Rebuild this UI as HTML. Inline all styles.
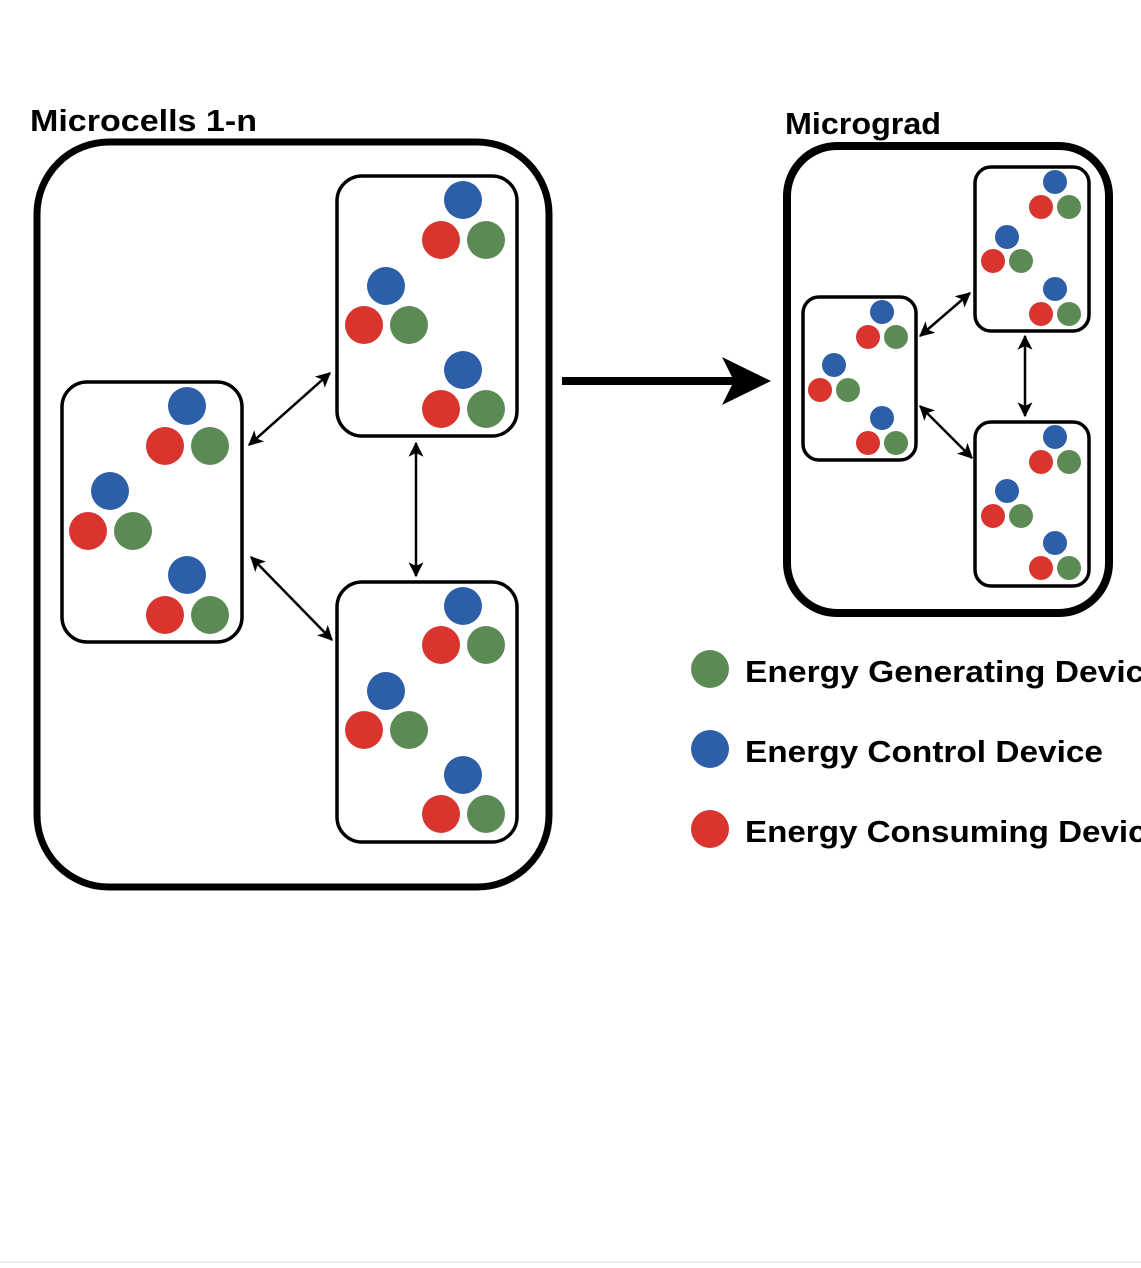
<!DOCTYPE html>
<html><head><meta charset="utf-8"><style>
html,body{margin:0;padding:0;background:#fff;}
svg{display:block;}
</style></head><body>
<svg width="1141" height="1268" viewBox="0 0 1141 1268" xmlns="http://www.w3.org/2000/svg">
<defs>
<marker id="ah" viewBox="0 0 12 12" refX="11" refY="6" markerWidth="15" markerHeight="15" markerUnits="userSpaceOnUse" orient="auto-start-reverse">
<path d="M0,0 L12,6 L0,12 L3,6 z" fill="#000"/>
</marker>
</defs>
<rect width="1141" height="1268" fill="#fff"/>
<rect x="0" y="1261" width="1141" height="2" fill="#eee"/>

<g font-family="Liberation Sans, sans-serif" font-weight="bold" fill="#000">
<text x="30" y="131" font-size="31" textLength="227" lengthAdjust="spacingAndGlyphs">Microcells 1-n</text>
<text x="785" y="134" font-size="31" textLength="156" lengthAdjust="spacingAndGlyphs">Micrograd</text>
<text x="745" y="682" font-size="31" textLength="418" lengthAdjust="spacingAndGlyphs">Energy Generating Device</text>
<text x="745" y="762" font-size="31" textLength="358" lengthAdjust="spacingAndGlyphs">Energy Control Device</text>
<text x="745" y="842" font-size="31" textLength="420" lengthAdjust="spacingAndGlyphs">Energy Consuming Device</text>
</g>

<rect x="37" y="142" width="512" height="745" rx="72" fill="none" stroke="#000" stroke-width="7"/>
<rect x="787" y="146" width="322" height="467" rx="50" fill="none" stroke="#000" stroke-width="8"/>

<g fill="none" stroke="#000" stroke-width="3.5">
<rect x="62" y="382" width="180" height="260" rx="25"/>
<rect x="337" y="176" width="180" height="260" rx="25"/>
<rect x="337" y="582" width="180" height="260" rx="25"/>
<rect x="803" y="297" width="113" height="163" rx="16"/>
<rect x="975" y="167" width="114" height="164" rx="16"/>
<rect x="975" y="422" width="114" height="164" rx="16"/>
</g>

<g stroke="#000" stroke-width="2.5" marker-start="url(#ah)" marker-end="url(#ah)">
<line x1="249" y1="445" x2="330" y2="373"/>
<line x1="251" y1="557" x2="332" y2="640"/>
<line x1="416" y1="443" x2="416" y2="576"/>
<line x1="920" y1="336" x2="970" y2="293"/>
<line x1="1025" y1="336" x2="1025" y2="416"/>
<line x1="920" y1="406" x2="972" y2="458"/>
</g>

<line x1="562" y1="381" x2="735" y2="381" stroke="#000" stroke-width="8"/>
<path d="M771,381 L722,357 L734,381 L722,405 z" fill="#000"/>

<g>
<circle cx="187" cy="406" r="19" fill="#2d5ea8"/><circle cx="165" cy="446" r="19" fill="#d9352e"/><circle cx="210" cy="446" r="19" fill="#5c8a55"/>
<circle cx="110" cy="491" r="19" fill="#2d5ea8"/><circle cx="88" cy="531" r="19" fill="#d9352e"/><circle cx="133" cy="531" r="19" fill="#5c8a55"/>
<circle cx="187" cy="575" r="19" fill="#2d5ea8"/><circle cx="165" cy="615" r="19" fill="#d9352e"/><circle cx="210" cy="615" r="19" fill="#5c8a55"/>

<circle cx="463" cy="200" r="19" fill="#2d5ea8"/><circle cx="441" cy="240" r="19" fill="#d9352e"/><circle cx="486" cy="240" r="19" fill="#5c8a55"/>
<circle cx="386" cy="286" r="19" fill="#2d5ea8"/><circle cx="364" cy="325" r="19" fill="#d9352e"/><circle cx="409" cy="325" r="19" fill="#5c8a55"/>
<circle cx="463" cy="370" r="19" fill="#2d5ea8"/><circle cx="441" cy="409" r="19" fill="#d9352e"/><circle cx="486" cy="409" r="19" fill="#5c8a55"/>

<circle cx="463" cy="606" r="19" fill="#2d5ea8"/><circle cx="441" cy="645" r="19" fill="#d9352e"/><circle cx="486" cy="645" r="19" fill="#5c8a55"/>
<circle cx="386" cy="691" r="19" fill="#2d5ea8"/><circle cx="364" cy="730" r="19" fill="#d9352e"/><circle cx="409" cy="730" r="19" fill="#5c8a55"/>
<circle cx="463" cy="775" r="19" fill="#2d5ea8"/><circle cx="441" cy="814" r="19" fill="#d9352e"/><circle cx="486" cy="814" r="19" fill="#5c8a55"/>
</g>

<g>
<circle cx="882" cy="312" r="12" fill="#2d5ea8"/><circle cx="868" cy="337" r="12" fill="#d9352e"/><circle cx="896" cy="337" r="12" fill="#5c8a55"/>
<circle cx="834" cy="365" r="12" fill="#2d5ea8"/><circle cx="820" cy="390" r="12" fill="#d9352e"/><circle cx="848" cy="390" r="12" fill="#5c8a55"/>
<circle cx="882" cy="418" r="12" fill="#2d5ea8"/><circle cx="868" cy="443" r="12" fill="#d9352e"/><circle cx="896" cy="443" r="12" fill="#5c8a55"/>

<circle cx="1055" cy="182" r="12" fill="#2d5ea8"/><circle cx="1041" cy="207" r="12" fill="#d9352e"/><circle cx="1069" cy="207" r="12" fill="#5c8a55"/>
<circle cx="1007" cy="237" r="12" fill="#2d5ea8"/><circle cx="993" cy="261" r="12" fill="#d9352e"/><circle cx="1021" cy="261" r="12" fill="#5c8a55"/>
<circle cx="1055" cy="289" r="12" fill="#2d5ea8"/><circle cx="1041" cy="314" r="12" fill="#d9352e"/><circle cx="1069" cy="314" r="12" fill="#5c8a55"/>

<circle cx="1055" cy="437" r="12" fill="#2d5ea8"/><circle cx="1041" cy="462" r="12" fill="#d9352e"/><circle cx="1069" cy="462" r="12" fill="#5c8a55"/>
<circle cx="1007" cy="491" r="12" fill="#2d5ea8"/><circle cx="993" cy="516" r="12" fill="#d9352e"/><circle cx="1021" cy="516" r="12" fill="#5c8a55"/>
<circle cx="1055" cy="543" r="12" fill="#2d5ea8"/><circle cx="1041" cy="568" r="12" fill="#d9352e"/><circle cx="1069" cy="568" r="12" fill="#5c8a55"/>
</g>

<circle cx="710" cy="669" r="19" fill="#5c8a55"/>
<circle cx="710" cy="749" r="19" fill="#2d5ea8"/>
<circle cx="710" cy="829" r="19" fill="#d9352e"/>
</svg>
</body></html>
